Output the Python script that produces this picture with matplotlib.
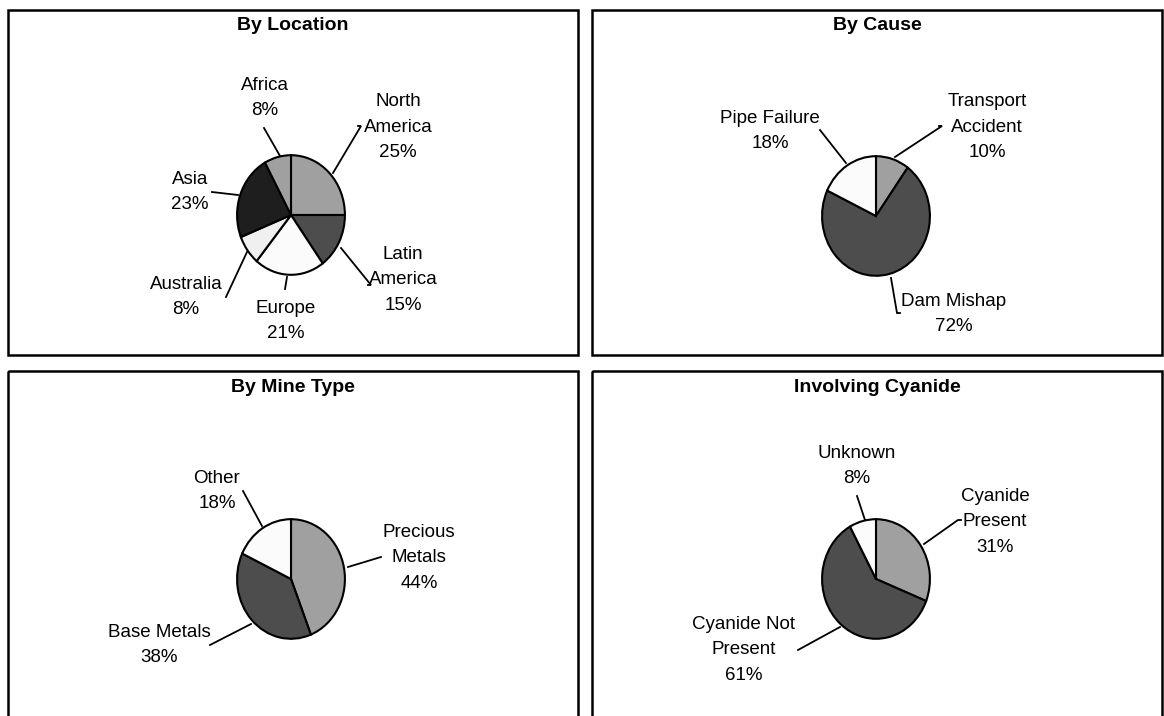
import matplotlib
matplotlib.use("Agg")
import matplotlib.pyplot as plt
from matplotlib.patches import Rectangle

W, H = 1164, 716
DPI = 100

# ---------------- data ----------------
loc_labels = ["North\nAmerica", "Latin\nAmerica", "Europe", "Australia", "Asia", "Africa"]
loc_values = [25, 15, 21, 8, 23, 8]
loc_colors = ["#A0A0A0", "#4D4D4D", "#FBFBFB", "#F0F0F0", "#1E1E1E", "#A0A0A0"]

cause_labels = ["Transport\nAccident", "Dam Mishap", "Pipe Failure"]
cause_values = [10, 72, 18]
cause_colors = ["#A0A0A0", "#4D4D4D", "#FBFBFB"]

mine_labels = ["Precious\nMetals", "Base Metals", "Other"]
mine_values = [44, 38, 18]
mine_colors = ["#A0A0A0", "#4D4D4D", "#FBFBFB"]

cyan_labels = ["Cyanide\nPresent", "Cyanide Not\nPresent", "Unknown"]
cyan_values = [31, 61, 8]
cyan_colors = ["#A0A0A0", "#4D4D4D", "#FBFBFB"]

titles = ["By Location", "By Cause", "By Mine Type", "Involving Cyanide"]

# ---------------- layout (pixels) ----------------
panels = [  # x0, y0, x1, y1 (top-left origin)
    (8, 10, 578, 355),
    (592, 10, 1162, 355),
    (8, 371, 578, 730),
    (592, 371, 1162, 730),
]
centers = [(291, 215), (876, 216), (291, 579), (876, 579)]
RX, RY = 55, 61

# label text centres and leader lines (start near text, end on pie)
label_pos = [
    [(398, 127), (403, 280), (286, 321), (186, 297), (190, 192), (265, 98)],
    [(987, 127), (954, 314), (770, 131)],
    [(419, 558), (159, 645), (217, 491)],
    [(995, 522), (744, 650), (857, 466)],
]
leaders = [
    [[(358, 126), (361, 126), (333, 173)],
     [(368, 285), (371, 285), (341, 248)],
     [(287, 277), (285, 289)],
     [(226, 297), (247, 252)],
     [(212, 192), (238, 195)],
     [(264, 128), (280, 156)]],
    [[(939, 126), (942, 126), (895, 157)],
     [(900, 313), (897, 313), (891, 278)],
     [(820, 130), (846, 163)]],
    [[(381, 557), (348, 567)],
     [(210, 645), (251, 624)],
     [(243, 491), (262, 526)]],
    [[(961, 520), (958, 520), (924, 544)],
     [(798, 650), (840, 627)],
     [(857, 496), (865, 520)]],
]

all_data = [
    (loc_labels, loc_values, loc_colors),
    (cause_labels, cause_values, cause_colors),
    (mine_labels, mine_values, mine_colors),
    (cyan_labels, cyan_values, cyan_colors),
]

LABEL_FONT = ["Liberation Sans Narrow", "Liberation Sans", "DejaVu Sans"]
TITLE_FONT = ["Liberation Sans", "DejaVu Sans"]

fig = plt.figure(figsize=(W / DPI, H / DPI), dpi=DPI)
fig.patch.set_facecolor("white")

# overlay axes in pixel coordinates
ov = fig.add_axes([0, 0, 1, 1])
ov.set_xlim(0, W)
ov.set_ylim(H, 0)
ov.axis("off")

for i, (x0, y0, x1, y1) in enumerate(panels):
    ov.add_patch(Rectangle((x0, y0), x1 - x0, y1 - y0, fill=False,
                           edgecolor="black", linewidth=1.8, zorder=1))
    ov.text((x0 + x1) / 2, y0 + 16, titles[i], ha="center", va="center",
            fontsize=14, fontweight="bold", family=TITLE_FONT, zorder=5)

for i, (labels, values, colors) in enumerate(all_data):
    cx, cy = centers[i]
    ax = fig.add_axes([(cx - RX) / W, 1 - (cy + RY) / H, 2 * RX / W, 2 * RY / H])
    ax.pie(values, colors=colors, startangle=90, counterclock=False,
           radius=1.0, wedgeprops=dict(edgecolor="black", linewidth=1.5))
    ax.set_aspect("auto")
    ax.set_xlim(-1.02, 1.02)
    ax.set_ylim(-1.02, 1.02)
    ax.axis("off")
    tot = sum(values)
    for j, lab in enumerate(labels):
        pct = round(100 * values[j] / tot)
        tx, ty = label_pos[i][j]
        ov.text(tx, ty, f"{lab}\n{pct}%", ha="center", va="center",
                fontsize=13.5, family=LABEL_FONT, linespacing=1.65, zorder=5)
        pts = leaders[i][j]
        ov.plot([p[0] for p in pts], [p[1] for p in pts], color="black",
                linewidth=1.3, zorder=4, solid_joinstyle="miter")

fig.savefig("out.png", dpi=DPI, facecolor="white")
